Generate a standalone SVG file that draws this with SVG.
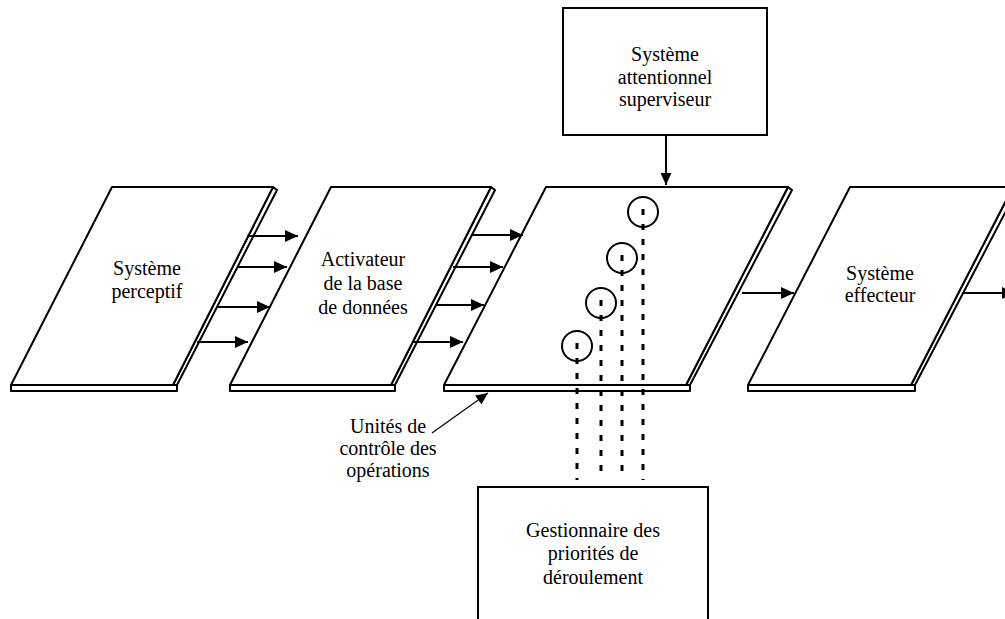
<svg xmlns="http://www.w3.org/2000/svg" width="1005" height="619" viewBox="0 0 1005 619" font-family="'Liberation Serif', 'DejaVu Serif', serif" font-size="20">
<defs>
<style>
.face{fill:#fff;stroke:#000;stroke-width:2;stroke-linejoin:round}
.box{fill:#fff;stroke:#000;stroke-width:2}
.arr{fill:none;stroke:#000;stroke-width:2}
.thin{fill:none;stroke:#000;stroke-width:1.2}
.dot{fill:none;stroke:#000;stroke-width:3;stroke-dasharray:6 9}
.circ{fill:none;stroke:#000;stroke-width:2}
text{font-family:'Liberation Serif','DejaVu Serif',serif;font-size:20px;fill:#000;text-anchor:middle}
</style>
<marker id="ah" markerUnits="userSpaceOnUse" markerWidth="13" markerHeight="12" refX="13" refY="6" orient="auto">
<path d="M0,0 L13,6 L0,12 z" fill="#000"/>
</marker>
<marker id="ahs" markerUnits="userSpaceOnUse" markerWidth="12" markerHeight="11" refX="12" refY="5.5" orient="auto">
<path d="M0,0 L12,5.5 L0,11 z" fill="#000"/>
</marker>
</defs>
<rect width="1005" height="619" fill="#fff"/>

<g id="systeme-perceptif">
<rect class="face" x="11" y="385" width="166" height="6"/>
<polygon class="face" points="273,187 277,190 177,385 173,385"/>
<polygon class="face" points="112,187 273,187 173,385 11,385"/>
<text x="147" y="275">Système</text>
<text x="147" y="298">perceptif</text>
</g>

<g id="activateur">
<rect class="face" x="230" y="385" width="165" height="6"/>
<polygon class="face" points="491,187 495,190 395,385 391,385"/>
<polygon class="face" points="331,187 491,187 391,385 230,385"/>
<text x="363" y="266">Activateur</text>
<text x="363" y="290">de la base</text>
<text x="363" y="314">de données</text>
</g>

<g id="unites-controle">
<rect class="face" x="444" y="385" width="246" height="6"/>
<polygon class="face" points="788,187 792,190 690,385 686,385"/>
<polygon class="face" points="546,187 788,187 686,385 444,385"/>
<circle class="circ" cx="643" cy="212" r="15"/>
<circle class="circ" cx="622" cy="258" r="15"/>
<circle class="circ" cx="601" cy="303" r="15"/>
<circle class="circ" cx="577" cy="346" r="15"/>
</g>

<g id="systeme-effecteur">
<rect class="face" x="748" y="385" width="167" height="6"/>
<polygon class="face" points="1013,187 1017,190 915,385 911,385"/>
<polygon class="face" points="850,187 1013,187 911,385 748,385"/>
<text x="880" y="280">Système</text>
<text x="880" y="302">effecteur</text>
</g>

<g id="systeme-attentionnel">
<rect class="box" x="563" y="8" width="204" height="127"/>
<text x="665" y="61">Système</text>
<text x="665" y="84">attentionnel</text>
<text x="665" y="106">superviseur</text>
</g>

<g id="gestionnaire">
<rect class="box" x="478" y="487" width="230" height="145"/>
<text x="593" y="537">Gestionnaire des</text>
<text x="593" y="560">priorités de</text>
<text x="593" y="584">déroulement</text>
</g>

<g id="label-unites">
<text x="388" y="433">Unités de</text>
<text x="388" y="455">contrôle des</text>
<text x="388" y="477">opérations</text>
</g>

<g id="connectors">
<line class="arr" x1="247" y1="236" x2="298" y2="236" marker-end="url(#ah)"/>
<line class="arr" x1="237" y1="267" x2="287" y2="267" marker-end="url(#ah)"/>
<line class="arr" x1="217" y1="307" x2="270" y2="307" marker-end="url(#ah)"/>
<line class="arr" x1="197" y1="342" x2="248" y2="342" marker-end="url(#ah)"/>
<line class="arr" x1="472" y1="235" x2="523" y2="235" marker-end="url(#ah)"/>
<line class="arr" x1="453" y1="267" x2="503" y2="267" marker-end="url(#ah)"/>
<line class="arr" x1="435" y1="305" x2="484" y2="305" marker-end="url(#ah)"/>
<line class="arr" x1="412" y1="342" x2="463" y2="342" marker-end="url(#ah)"/>
<line class="arr" x1="742" y1="293" x2="794" y2="293" marker-end="url(#ah)"/>
<line class="arr" x1="962" y1="293" x2="1015" y2="293" marker-end="url(#ah)"/>
<line class="arr" x1="666" y1="135" x2="666" y2="185" marker-end="url(#ahs)"/>
<line class="thin" x1="432" y1="433" x2="488" y2="393" marker-end="url(#ahs)"/>
<line class="dot" x1="643" y1="209" x2="643" y2="480"/>
<line class="dot" x1="622" y1="255" x2="622" y2="480"/>
<line class="dot" x1="601" y1="300" x2="601" y2="480"/>
<line class="dot" x1="577" y1="343" x2="577" y2="480"/>
</g>
</svg>
